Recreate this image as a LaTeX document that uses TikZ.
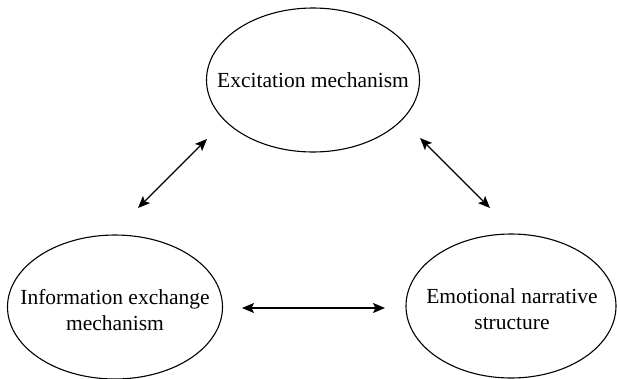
\documentclass[tikz,border=0pt]{standalone}
\usepackage{fontspec}
\setmainfont{Liberation Serif}
\usetikzlibrary{shapes.geometric,arrows.meta}
\begin{document}
\begin{tikzpicture}[x=1pt,y=-1pt,
  ell/.style={draw,ellipse,line width=1.1pt,inner sep=0pt,outer sep=0pt},
  txt/.style={inner sep=0pt,align=center,font=\fontsize{21.5}{26}\selectfont},
  conn/.style={line width=1.2pt,{Stealth[length=12pt,width=10pt,inset=2.5pt]}-{Stealth[length=12pt,width=10pt,inset=2.5pt]}}]
\useasboundingbox (0,0) rectangle (617,378);
\node[ell,minimum width=213pt,minimum height=144pt] (top) at (313,80) {};
\node[ell,minimum width=215pt,minimum height=144pt] (left) at (115,307) {};
\node[ell,minimum width=210pt,minimum height=144pt] (right) at (511,306) {};
\node[txt] (toptext) at (top.center) {Excitation mechanism};
\node[txt] (lefttext) at (115,310) {Information exchange\\mechanism};
\node[txt] (righttext) at (512,309) {Emotional narrative\\structure};
\coordinate (l1) at (138,208);
\coordinate (l2) at (207,139);
\coordinate (r1) at (420,138);
\coordinate (r2) at (490,208);
\coordinate (h1) at (242,308);
\coordinate (h2) at (385,308);
\draw[conn] (l1) -- (l2);
\draw[conn] (r1) -- (r2);
\draw[conn] (h1) -- (h2);
\end{tikzpicture}
\end{document}
